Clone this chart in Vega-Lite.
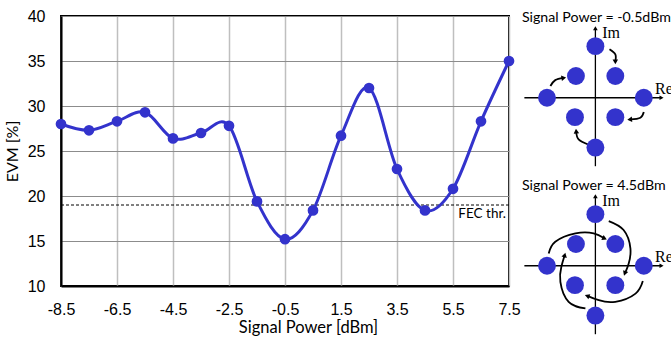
{
  "$schema": "https://vega.github.io/schema/vega-lite/v6.json",
  "background": "white",
  "padding": {"left": 3, "top": 7, "right": 0, "bottom": 0},
  "bounds": "flush",
  "spacing": 11,
  "config": {
    "font": "Lato",
    "view": {"stroke": null}
  },
  "datasets": {
    "evm": [
      {"power": -8.5, "evm": 28.0},
      {"power": -7.5, "evm": 27.3},
      {"power": -6.5, "evm": 28.3},
      {"power": -5.5, "evm": 29.3},
      {"power": -4.5, "evm": 26.4},
      {"power": -3.5, "evm": 27.0},
      {"power": -2.5, "evm": 27.8},
      {"power": -1.5, "evm": 19.4},
      {"power": -0.5, "evm": 15.2},
      {"power": 0.5, "evm": 18.4},
      {"power": 1.5, "evm": 26.7},
      {"power": 2.5, "evm": 32.0},
      {"power": 3.5, "evm": 23.0},
      {"power": 4.5, "evm": 18.4},
      {"power": 5.5, "evm": 20.8},
      {"power": 6.5, "evm": 28.3},
      {"power": 7.5, "evm": 35.0}
    ],
    "fec": [{"power": 7.5, "evm": 19, "label": "FEC thr."}],
    "symbols": [
      {"re": 0, "im": 2.02},
      {"re": -0.8, "im": 0.85},
      {"re": 0.82, "im": 0.85},
      {"re": -1.99, "im": 0},
      {"re": 1.99, "im": 0},
      {"re": -0.84, "im": -0.76},
      {"re": 0.82, "im": -0.76},
      {"re": 0, "im": -1.95}
    ],
    "axisLines": [
      {"re": -2.92, "im": 0, "re2": 2.72, "im2": 0},
      {"re": 0, "im": -2.68, "re2": 0, "im2": 2.72}
    ],
    "axisHeads": [
      {"re": 2.72, "im": 0, "angle": 90},
      {"re": 0, "im": 2.72, "angle": 0}
    ],
    "axisNames": [
      {"re": 0.28, "im": 2.55, "name": "Im"},
      {"re": 2.45, "im": 0.33, "name": "Re"}
    ],
    "arcsLow": [
      {"arc": "a", "step": 1, "re": 0.58, "im": 1.9},
      {"arc": "a", "step": 2, "re": 0.82, "im": 1.7},
      {"arc": "a", "step": 3, "re": 0.82, "im": 1.42},
      {"arc": "b", "step": 1, "re": -1.85, "im": 0.46},
      {"arc": "b", "step": 2, "re": -1.65, "im": 0.69},
      {"arc": "b", "step": 3, "re": -1.32, "im": 0.78},
      {"arc": "c", "step": 1, "re": 1.99, "im": -0.56},
      {"arc": "c", "step": 2, "re": 1.85, "im": -0.78},
      {"arc": "c", "step": 3, "re": 1.43, "im": -0.85},
      {"arc": "d", "step": 1, "re": -0.3, "im": -1.83},
      {"arc": "d", "step": 2, "re": -0.69, "im": -1.63},
      {"arc": "d", "step": 3, "re": -0.79, "im": -1.33}
    ],
    "headsLow": [
      {"re": 0.82, "im": 1.4, "angle": 180},
      {"re": -1.3, "im": 0.78, "angle": 80},
      {"re": 1.41, "im": -0.85, "angle": 265},
      {"re": -0.79, "im": -1.31, "angle": 355}
    ],
    "arcsHigh": [
      {"arc": "a", "step": 1, "re": 0.55, "im": 1.75},
      {"arc": "a", "step": 2, "re": 1.16, "im": 1.4},
      {"arc": "a", "step": 3, "re": 1.44, "im": 0.68},
      {"arc": "a", "step": 4, "re": 1.37, "im": 0.09},
      {"arc": "a", "step": 5, "re": 1.23, "im": -0.27},
      {"arc": "b", "step": 1, "re": 1.95, "im": -0.6},
      {"arc": "b", "step": 2, "re": 1.65, "im": -1.09},
      {"arc": "b", "step": 3, "re": 0.82, "im": -1.41},
      {"arc": "b", "step": 4, "re": 0.14, "im": -1.35},
      {"arc": "b", "step": 5, "re": -0.31, "im": -1.19},
      {"arc": "c", "step": 1, "re": -0.41, "im": -1.67},
      {"arc": "c", "step": 2, "re": -1.1, "im": -1.41},
      {"arc": "c", "step": 3, "re": -1.44, "im": -0.63},
      {"arc": "c", "step": 4, "re": -1.4, "im": -0.04},
      {"arc": "c", "step": 5, "re": -1.27, "im": 0.39},
      {"arc": "d", "step": 1, "re": -1.92, "im": 0.48},
      {"arc": "d", "step": 2, "re": -1.65, "im": 0.94},
      {"arc": "d", "step": 3, "re": -0.82, "im": 1.27},
      {"arc": "d", "step": 4, "re": -0.07, "im": 1.27},
      {"arc": "d", "step": 5, "re": 0.35, "im": 1.09}
    ],
    "headsHigh": [
      {"re": 1.21, "im": -0.3, "angle": 200},
      {"re": -0.34, "im": -1.18, "angle": 290},
      {"re": -1.26, "im": 0.42, "angle": 15},
      {"re": 0.38, "im": 1.07, "angle": 115}
    ],
    "titleLow": [{"re": -3.02, "im": 3.14, "title": "Signal Power = -0.5dBm"}],
    "titleHigh": [{"re": -3.02, "im": 3.14, "title": "Signal Power = 4.5dBm"}]
  },
  "hconcat": [
    {
      "width": 448,
      "height": 270,
      "view": {"stroke": "black", "strokeWidth": 2},
      "encoding": {
        "x": {
          "field": "power",
          "type": "quantitative",
          "scale": {"domain": [-8.5, 7.5], "nice": false, "zero": false},
          "axis": {
            "values": [-8.5, -6.5, -4.5, -2.5, -0.5, 1.5, 3.5, 5.5, 7.5],
            "labelExpr": "(datum.value < 0 ? '-' : '') + format(abs(datum.value), '.1f')",
            "title": "Signal Power [dBm]",
            "grid": true,
            "gridColor": "#bfbfbf",
            "gridWidth": 1.5,
            "domainColor": "black",
            "domainWidth": 2,
            "ticks": false,
            "tickSize": 0,
            "labelFont": "Liberation Sans",
            "labelFontSize": 16,
            "labelColor": "black",
            "labelPadding": 15,
            "labelFlush": false,
            "labelOverlap": false,
            "titleFont": "Lato",
            "titleFontSize": 16.5,
            "titleFontWeight": "normal",
            "titleColor": "black",
            "titlePadding": 2,
            "titleX": 247
          }
        },
        "y": {
          "field": "evm",
          "type": "quantitative",
          "scale": {"domain": [10, 40], "nice": false, "zero": false},
          "axis": {
            "values": [10, 15, 20, 25, 30, 35, 40],
            "title": "EVM [%]",
            "grid": true,
            "gridColor": "#8c8c8c",
            "gridWidth": 1,
            "domainColor": "black",
            "domainWidth": 2,
            "ticks": false,
            "tickSize": 0,
            "labelFont": "Liberation Sans",
            "labelFontSize": 16,
            "labelColor": "black",
            "labelPadding": 16,
            "labelFlush": false,
            "labelOverlap": false,
            "titleFont": "Lato",
            "titleFontSize": 16,
            "titleFontWeight": "normal",
            "titleColor": "black",
            "titlePadding": 7
          }
        }
      },
      "layer": [
        {
          "data": {"name": "fec"},
          "mark": {"type": "rule", "color": "black", "strokeWidth": 1, "strokeDash": [3, 2]},
          "encoding": {"x": null, "y": {"field": "evm", "type": "quantitative"}}
        },
        {
          "data": {"name": "fec"},
          "mark": {"type": "text", "align": "right", "baseline": "top", "dx": -3, "dy": 1.5, "font": "Lato", "fontSize": 13.5, "color": "black"},
          "encoding": {"text": {"field": "label"}}
        },
        {
          "data": {"name": "evm"},
          "mark": {"type": "line", "interpolate": "cardinal", "color": "#3333cc", "strokeWidth": 3}
        },
        {
          "data": {"name": "evm"},
          "mark": {"type": "point", "filled": true, "size": 115, "color": "#3333cc", "opacity": 1}
        }
      ]
    },
    {
      "vconcat": [
        {
          "width": 152,
          "height": 152,
          "view": {"stroke": null},
          "encoding": {
            "x": {"field": "re", "type": "quantitative", "scale": {"domain": [-3.1, 3.15], "nice": false, "zero": false}, "axis": null},
            "y": {"field": "im", "type": "quantitative", "scale": {"domain": [-2.75, 3.2], "nice": false, "zero": false}, "axis": null}
          },
          "layer": [
            {
              "data": {"name": "axisLines"},
              "mark": {"type": "rule", "color": "black", "strokeWidth": 1.3},
              "encoding": {"x2": {"field": "re2"}, "y2": {"field": "im2"}}
            },
            {
              "data": {"name": "axisHeads"},
              "mark": {"type": "point", "shape": "triangle-up", "filled": true, "color": "black", "size": 22, "opacity": 1},
              "encoding": {"angle": {"field": "angle", "type": "quantitative", "scale": null}}
            },
            {
              "data": {"name": "arcsLow"},
              "mark": {"type": "line", "interpolate": "natural", "color": "black", "strokeWidth": 1.8},
              "encoding": {"detail": {"field": "arc"}, "order": {"field": "step", "type": "quantitative"}}
            },
            {
              "data": {"name": "headsLow"},
              "mark": {"type": "point", "shape": "triangle-up", "filled": true, "color": "black", "size": 30, "opacity": 1},
              "encoding": {"angle": {"field": "angle", "type": "quantitative", "scale": null}}
            },
            {
              "data": {"name": "symbols"},
              "mark": {"type": "point", "filled": true, "size": 320, "color": "#3333cc", "opacity": 1}
            },
            {
              "data": {"name": "axisNames"},
              "mark": {"type": "text", "align": "left", "baseline": "middle", "font": "Liberation Serif", "fontSize": 16, "color": "black"},
              "encoding": {"text": {"field": "name"}}
            },
            {
              "data": {"name": "titleLow"},
              "mark": {"type": "text", "align": "left", "baseline": "middle", "font": "Lato", "fontSize": 14.2, "color": "black"},
              "encoding": {"text": {"field": "title"}}
            }
          ]
        },
        {
          "width": 152,
          "height": 152,
          "view": {"stroke": null},
          "encoding": {
            "x": {"field": "re", "type": "quantitative", "scale": {"domain": [-3.1, 3.15], "nice": false, "zero": false}, "axis": null},
            "y": {"field": "im", "type": "quantitative", "scale": {"domain": [-2.75, 3.2], "nice": false, "zero": false}, "axis": null}
          },
          "layer": [
            {
              "data": {"name": "axisLines"},
              "mark": {"type": "rule", "color": "black", "strokeWidth": 1.3},
              "encoding": {"x2": {"field": "re2"}, "y2": {"field": "im2"}}
            },
            {
              "data": {"name": "axisHeads"},
              "mark": {"type": "point", "shape": "triangle-up", "filled": true, "color": "black", "size": 22, "opacity": 1},
              "encoding": {"angle": {"field": "angle", "type": "quantitative", "scale": null}}
            },
            {
              "data": {"name": "arcsHigh"},
              "mark": {"type": "line", "interpolate": "natural", "color": "black", "strokeWidth": 1.8},
              "encoding": {"detail": {"field": "arc"}, "order": {"field": "step", "type": "quantitative"}}
            },
            {
              "data": {"name": "headsHigh"},
              "mark": {"type": "point", "shape": "triangle-up", "filled": true, "color": "black", "size": 30, "opacity": 1},
              "encoding": {"angle": {"field": "angle", "type": "quantitative", "scale": null}}
            },
            {
              "data": {"name": "symbols"},
              "mark": {"type": "point", "filled": true, "size": 320, "color": "#3333cc", "opacity": 1}
            },
            {
              "data": {"name": "axisNames"},
              "mark": {"type": "text", "align": "left", "baseline": "middle", "font": "Liberation Serif", "fontSize": 16, "color": "black"},
              "encoding": {"text": {"field": "name"}}
            },
            {
              "data": {"name": "titleHigh"},
              "mark": {"type": "text", "align": "left", "baseline": "middle", "font": "Lato", "fontSize": 14.2, "color": "black"},
              "encoding": {"text": {"field": "title"}}
            }
          ]
        }
      ],
      "spacing": 16,
      "bounds": "flush"
    }
  ]
}
